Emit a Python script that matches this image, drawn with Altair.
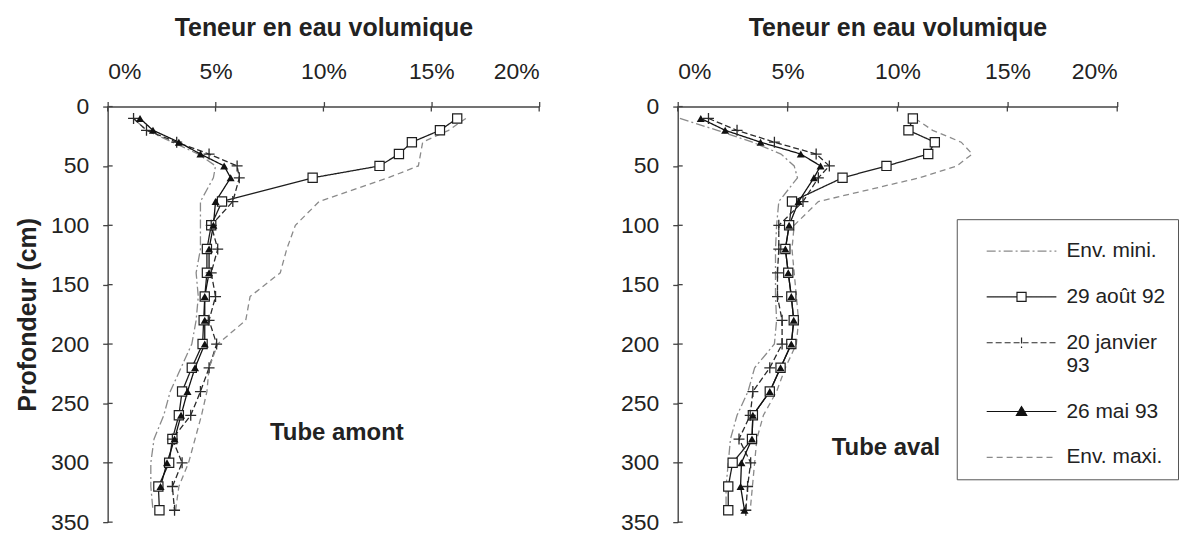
import altair as alt
import pandas as pd

depths = [10, 20, 30, 40, 50, 60, 80, 100, 120, 140, 160, 180, 200, 220, 240, 260, 280, 300, 320, 340]
series = ["Env. mini.", "29 août 92", "20 janvier 93", "26 mai 93", "Env. maxi."]

# Tube amont (left panel), volumetric water content in %
amont_mini = [1.2, 1.8, 3.0, 4.2, 5.0, 4.9, 4.3, 4.3, 4.3, 4.1, 4.2, 4.1, 3.9, 3.4, 2.9, 2.6, 2.15, 2.0, 2.0, 2.1]
amont_aout = [16.2, 15.4, 14.1, 13.5, 12.6, 9.5, 5.3, 4.8, 4.6, 4.6, 4.5, 4.45, 4.4, 3.9, 3.45, 3.3, 3.0, 2.85, 2.35, 2.4]
amont_janv = [1.2, 1.8, 3.2, 4.7, 6.0, 6.1, 5.8, 4.8, 5.1, 4.8, 5.0, 4.7, 5.05, 4.7, 4.3, 3.85, 3.0, 3.45, 3.0, 3.1]
amont_mai = [1.5, 2.1, 3.3, 4.3, 5.4, 5.7, 5.0, 4.9, 4.7, 4.7, 4.5, 4.5, 4.5, 4.05, 3.7, 3.4, 3.1, 2.75, 2.45, None]
amont_maxi = [16.6, 15.8, 14.6, 14.5, 14.4, 13.0, 9.8, 8.7, 8.3, 8.0, 6.6, 6.4, 5.1, 4.7, 4.6, 4.35, 4.05, 3.75, 3.3, 3.15]

# Tube aval (right panel)
aval_mini = [0.1, 1.8, 3.4, 4.7, 5.3, 5.45, 4.6, 4.5, 4.45, 4.45, 4.45, 4.5, 4.4, 3.5, 3.2, 2.7, 2.4, 2.3, 2.2, 2.2]
aval_aout = [10.7, 10.5, 11.7, 11.4, 9.5, 7.5, 5.2, 5.07, 4.9, 5.03, 5.17, 5.28, 5.17, 4.68, 4.19, 3.42, 3.38, 2.5, 2.3, 2.3]
aval_janv = [1.4, 2.7, 4.4, 6.3, 6.9, 6.4, 5.7, 4.6, 4.6, 4.54, 4.54, 4.75, 4.75, 4.19, 3.42, 3.3, 2.79, 3.32, 3.18, 3.1]
aval_mai = [1.05, 2.16, 3.77, 5.6, 6.5, 6.2, 5.5, 5.07, 4.9, 5.03, 5.17, 5.28, 5.17, 4.68, 4.19, 3.42, 3.38, 2.9, 2.86, 3.04]
aval_maxi = [10.8, 11.6, 12.9, 13.4, 12.7, 11.0, 6.4, 5.3, 5.2, 5.3, 5.4, 5.5, 5.4, 4.9, 4.5, 3.9, 3.6, 3.5, 3.4, 3.3]

x_ticks = [0, 5, 10, 15, 20]
y_ticks = [0, 50, 100, 150, 200, 250, 300, 350]

FONT = "Liberation Sans"
AX = "#444444"
TXT = "#222222"


def long_df(mini, aout, janv, mai, maxi):
    rows = []
    for name, vals in zip(series, [mini, aout, janv, mai, maxi]):
        for d, v in zip(depths, vals):
            if v is not None:
                rows.append({"depth": d, "value": v, "serie": name})
    return pd.DataFrame(rows)


df_amont = long_df(amont_mini, amont_aout, amont_janv, amont_mai, amont_maxi)
df_aval = long_df(aval_mini, aval_aout, aval_janv, aval_mai, aval_maxi)

stroke_scale = alt.Scale(domain=series, range=["#8a8a8a", "#1e1e1e", "#2a2a2a", "#111111", "#8a8a8a"])
dash_scale = alt.Scale(domain=series, range=[[9, 3, 2, 3], [1, 0], [6, 3], [1, 0], [6, 4]])

# legend symbols: line + marker, in units of sqrt(symbolSize)/2 = 19 px
leg_paths = [
    "M-1.84,0L1.84,0",
    "M-1.84,0L-0.24,0M0.24,0L1.84,0M-0.24,-0.24L0.24,-0.24L0.24,0.24L-0.24,0.24Z",
    "M-1.84,0L1.84,0M0,-0.28L0,0.28",
    "M-1.84,0L1.84,0M0,-0.26L0.27,0.2L-0.27,0.2Z",
    "M-1.84,0L1.84,0",
]
leg_fills = ["transparent", "white", "transparent", "#111111", "transparent"]

LEG = alt.Legend(title=None, orient="none", legendX=280, legendY=113,
                 symbolSize=1444, symbolStrokeWidth=1.2, symbolOffset=33,
                 labelOffset=25, labelFont=FONT, labelFontSize=21, labelColor=TXT,
                 labelLimit=300, rowPadding=16, padding=12,
                 strokeColor="#555555", fillColor="white",
                 labelExpr="datum.label == '20 janvier 93' ? ['20 janvier', '93'] : datum.label")


def panel(df, label, lab_px, ytitle, width, with_legend):
    xs = alt.Scale(domain=[0, 20], nice=False, zero=False)
    ys = alt.Scale(domain=[0, 350], reverse=True, nice=False, zero=False)
    yaxis = alt.Axis(title=ytitle, values=y_ticks, tickSize=5, labelPadding=14, labelFontSize=23,
                     labelFont=FONT, labelColor=TXT, domainColor=AX, tickColor=AX,
                     domainWidth=1.4, tickWidth=1.3, grid=False, titleFont=FONT,
                     titleFontSize=25, titleFontWeight="bold", titleColor=TXT, titlePadding=10)
    X = alt.X("value:Q", scale=xs,
              axis=alt.Axis(orient="top", values=x_ticks, labelExpr="datum.value + '%'",
                            title="Teneur en eau volumique", tickSize=5, labelPadding=18,
                            labelFontSize=23, labelFont=FONT, labelColor=TXT,
                            domainColor=AX, tickColor=AX, domainWidth=1.4, tickWidth=1.3,
                            grid=False, titleFont=FONT, titleFontSize=25,
                            titleFontWeight="bold", titleColor=TXT, titlePadding=20))
    Y = alt.Y("depth:Q", scale=ys, axis=yaxis)
    leg = LEG if with_legend else None

    base = alt.Chart(df)
    lines = base.mark_line(strokeWidth=1.3).encode(
        x=X, y=Y, order="depth:Q",
        stroke=alt.Stroke("serie:N", scale=stroke_scale, legend=leg),
        strokeDash=alt.StrokeDash("serie:N", scale=dash_scale, legend=leg),
    )
    sq = base.transform_filter(alt.datum.serie == series[1]).mark_point(
        shape="square", filled=True, fill="white", stroke="#1e1e1e", strokeWidth=1.2,
        size=85, opacity=1).encode(x=X, y=Y)
    pl = base.transform_filter(alt.datum.serie == series[2]).mark_point(
        shape="M-1,0L1,0M0,-1L0,1", filled=False, stroke="#2a2a2a", strokeWidth=1.3,
        size=121, opacity=1).encode(x=X, y=Y)
    tr = base.transform_filter(alt.datum.serie == series[3]).mark_point(
        shape="triangle-up", filled=True, color="#111111", size=65, opacity=1).encode(x=X, y=Y)

    # inner half of the crossing tick marks
    ytk = alt.Chart(pd.DataFrame({"depth": y_ticks})).mark_rule(color=AX, strokeWidth=1.3).encode(
        y=Y, x=alt.value(0), x2=alt.value(5))
    xtk = alt.Chart(pd.DataFrame({"value": x_ticks})).mark_rule(color=AX, strokeWidth=1.3).encode(
        x=X, y=alt.value(0), y2=alt.value(5))

    txt = alt.Chart(pd.DataFrame({"label": [label]})).mark_text(
        font=FONT, fontSize=24, fontWeight="bold", color=TXT, align="center", baseline="middle"
    ).encode(x=alt.value(lab_px[0]), y=alt.value(lab_px[1]), text="label:N")

    layers = [lines, sq, pl, tr, ytk, xtk, txt]
    if with_legend:
        lg = base.transform_filter("false").mark_point(filled=True, opacity=1).encode(
            x=X, y=Y,
            shape=alt.Shape("serie:N", scale=alt.Scale(domain=series, range=leg_paths), legend=LEG),
            stroke=alt.Stroke("serie:N", scale=stroke_scale, legend=LEG),
            fill=alt.Fill("serie:N", scale=alt.Scale(domain=series, range=leg_fills), legend=LEG),
            strokeDash=alt.StrokeDash("serie:N", scale=dash_scale, legend=LEG),
        )
        layers.append(lg)
    return alt.layer(*layers).properties(width=width, height=417)


left = panel(df_amont, "Tube amont", (230, 328), "Profondeur (cm)", 433, False)
right = panel(df_aval, "Tube aval", (209, 343), None, 441, True)

chart = alt.hconcat(left, right, spacing=80).resolve_scale(
    stroke="independent", strokeDash="independent"
).resolve_legend(
    stroke="independent", strokeDash="independent", shape="independent", fill="independent"
).properties(
    padding={"left": 7, "top": 7, "right": 0, "bottom": 0}
).configure(font=FONT, background="white").configure_view(stroke=None)

chart.save("out.html", embed_options={"renderer": "svg", "actions": False})
